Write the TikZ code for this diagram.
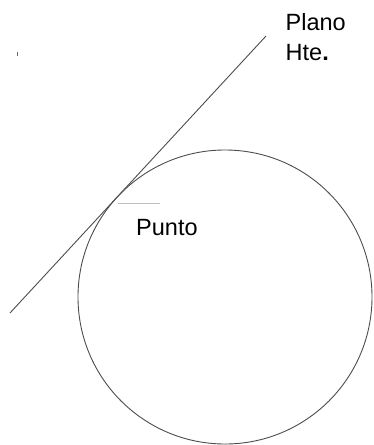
\documentclass[tikz,border=0pt]{standalone}
\usepackage{fontspec}
\setmainfont{Liberation Sans}
\begin{document}
\begin{tikzpicture}[x=1pt,y=-1pt,
  lbl/.style={inner sep=0pt, anchor=base west, font=\fontsize{23.5}{28}\selectfont},
  thinline/.style={draw=black!70, line width=0.9pt}]
\useasboundingbox (0,0) rectangle (373,445);
\node[circle, thinline, minimum size=294pt, inner sep=0pt] (c) at (225,297) {};
\coordinate (a) at (10,313);
\coordinate (b) at (266,36);
\draw[thinline] (a) -- (b);
\coordinate (d1) at (118,203);
\coordinate (d2) at (160,203);
\draw[black!25, line width=0.6pt] (d1) -- (d2);
\coordinate (m1) at (17,52);
\coordinate (m2) at (17,56);
\draw[black!60, line width=0.8pt] (m1) -- (m2);
\node[lbl] (plano) at (285.5,30) {Plano};
\node[lbl] (hte) at (285.5,60) {Hte\textbf{.}};
\node[lbl] (punto) at (136,235) {Punto};
\end{tikzpicture}
\end{document}
